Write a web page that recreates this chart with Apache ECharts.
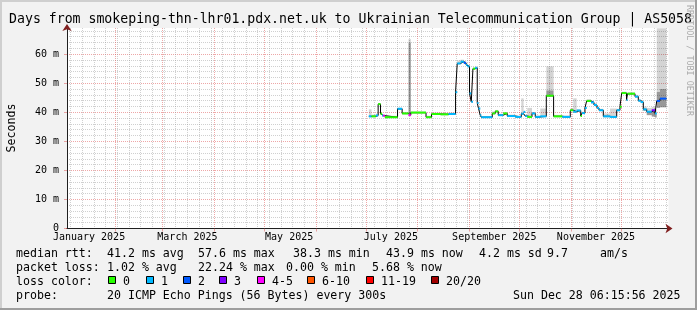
<!DOCTYPE html>
<html><head><meta charset="utf-8">
<script src="https://cdn.jsdelivr.net/npm/echarts@6/dist/echarts.min.js"></script>
<style>html,body{margin:0;padding:0;background:#f2f2f2;overflow:hidden}#c{width:697px;height:310px}</style>
</head><body><div id="c"></div>
<script>
// ---------- data ----------
const times = ['2025-07-02 19:00','2025-07-04 10:00','2025-07-07 00:00','2025-07-08 09:00','2025-07-09 19:00','2025-07-10 18:00','2025-07-11 09:00','2025-07-12 09:00','2025-07-20 00:00','2025-07-22 18:00','2025-07-26 14:00','2025-07-27 23:00','2025-08-06 02:00','2025-08-09 09:00','2025-08-14 19:00','2025-08-19 14:00','2025-08-23 19:00','2025-08-24 19:00','2025-08-26 19:00','2025-08-28 18:00','2025-08-30 02:00','2025-08-30 23:00','2025-09-01 04:00','2025-09-02 05:00','2025-09-03 05:00','2025-09-04 14:00','2025-09-05 19:00','2025-09-06 14:00','2025-09-07 14:00','2025-09-08 05:00','2025-09-14 19:00','2025-09-16 14:00','2025-09-18 09:00','2025-09-21 09:00','2025-09-23 19:00','2025-09-28 14:00','2025-10-02 05:00','2025-10-03 14:00','2025-10-04 14:00','2025-10-05 19:00','2025-10-08 15:00','2025-10-10 14:00','2025-10-13 14:00','2025-10-17 05:00','2025-10-21 14:00','2025-10-26 19:00','2025-10-31 14:00','2025-11-02 09:00','2025-11-04 10:00','2025-11-06 20:00','2025-11-07 14:00','2025-11-09 09:00','2025-11-10 10:00','2025-11-13 00:00','2025-11-14 19:00','2025-11-16 14:00','2025-11-17 19:00','2025-11-20 09:00','2025-11-24 09:00','2025-11-28 10:00','2025-11-30 09:00','2025-12-01 10:00','2025-12-04 07:00','2025-12-04 22:00','2025-12-09 09:00','2025-12-11 09:00','2025-12-12 19:00','2025-12-14 09:00','2025-12-16 10:00','2025-12-19 10:00','2025-12-21 09:00','2025-12-22 10:00','2025-12-24 09:00'];
const dataEnd = '2025-12-28 06:00';
const median = [38.6,38.6,38.9,42.8,39.5,38.9,38.8,38.3,41.2,39.6,39.0,39.9,38.3,39.4,39.3,39.4,46.9,56.8,57.4,57.0,56.3,55.8,46.5,43.6,55.0,55.3,43.2,41.3,39.0,38.3,39.6,40.3,39.0,39.6,38.7,38.4,39.5,40.1,38.7,38.4,39.6,38.4,38.6,45.7,38.6,38.4,40.7,40.2,40.6,38.7,39.7,41.5,43.9,43.4,42.5,41.5,40.7,38.6,38.4,40.7,41.9,46.6,44.2,46.4,45.4,44.0,43.5,41.0,40.2,40.7,39.6,43.9,44.7];
const lossBucket = [1,0,1,0,0,1,4,0,1,0,4,0,0,0,0,1,1,1,1,2,1,1,1,1,0,1,1,1,1,1,0,0,1,0,1,1,1,1,1,0,1,1,1,0,0,1,0,1,1,0,1,1,0,1,1,1,1,1,1,1,0,0,1,0,1,1,1,1,1,3,1,2,2];
const smokeLo = [38.3,38.3,38.6,42.5,39.2,38.6,38.5,38.0,40.9,39.3,38.7,39.6,38.0,39.1,39.0,39.1,46.6,56.5,57.1,56.7,56.0,55.5,46.2,43.3,54.7,55.0,42.9,41.0,38.7,38.0,39.3,40.0,38.7,39.3,38.4,38.1,39.2,39.8,38.4,38.1,39.3,38.1,38.3,45.4,38.3,38.1,40.4,39.9,40.3,38.4,39.4,41.2,43.6,43.1,42.2,41.2,40.4,38.3,38.1,40.4,41.6,46.3,43.9,46.1,45.1,43.7,43.2,40.5,39.0,38.5,38.2,41.5,41.7];
const smokeMid = [38.6,38.6,38.9,42.8,39.5,38.9,38.8,38.3,41.2,39.6,64.0,39.9,38.3,39.4,39.3,39.4,46.9,56.8,57.4,57.0,56.3,55.8,46.5,43.6,55.0,55.3,43.2,41.3,39.0,38.3,39.6,40.3,39.0,39.6,38.7,38.4,39.5,40.1,38.7,38.4,39.6,38.4,38.6,47.5,38.6,38.4,40.7,40.2,40.6,38.7,39.7,41.5,43.9,43.4,42.5,41.5,40.7,38.6,38.4,40.7,41.9,46.6,44.2,46.4,45.4,44.0,43.5,41.0,40.2,40.7,39.6,47.0,48.0];
const smokeHi = [41.0,39.2,39.5,43.2,40.0,39.4,39.3,38.8,41.6,40.0,65.2,40.3,38.8,39.9,39.8,39.9,47.3,57.8,58.1,57.6,56.9,56.2,47.0,44.0,55.4,55.7,43.6,41.7,39.4,38.7,40.3,40.8,39.5,40.1,39.2,38.8,44.8,40.6,39.2,41.5,40.1,38.9,41.3,55.8,39.1,38.9,41.3,44.8,41.1,39.2,40.2,42.0,44.5,44.0,43.2,42.0,41.2,39.6,41.3,41.2,42.4,47.1,44.8,46.9,46.0,44.6,44.0,42.0,41.5,41.8,41.0,68.9,68.9];

// axis extents and ticks
const axisStart = '2025-01-02 19:00';
const axisEnd = '2025-12-29 11:30';
const monthStarts = ['2025-02-01','2025-03-01','2025-04-01','2025-05-01','2025-06-01','2025-07-01','2025-08-01','2025-09-01','2025-10-01','2025-11-01','2025-12-01'];
const monthLabelDates = ['2025-01-16','2025-03-16','2025-05-16','2025-07-16','2025-09-16','2025-11-16'];
const monthLabels = ['January 2025','March 2025','May 2025','July 2025','September 2025','November 2025'];
const yMax = 69;
const yMajorTicks = [0,10,20,30,40,50,60];
const yMinorStep = 2;
const firstSunday = '2025-01-05';

// legend / text
const titleText = 'Days from smokeping-thn-lhr01.pdx.net.uk to Ukrainian Telecommunication Group | AS5058';
const yAxisTitle = 'Seconds';
const watermark = 'RRDTOOL / TOBI OETIKER';
const rttRow = ['median rtt:','41.2 ms avg','57.6 ms max','38.3 ms min','43.9 ms now','4.2 ms sd','9.7','am/s'];
const lossRow = ['packet loss:','1.02 % avg','22.24 % max','0.00 % min','5.68 % now'];
const lossLabels = ['0','1','2','3','4-5','6-10','11-19','20/20'];
const lossColors = ['#26ff00','#00b8ff','#0059ff','#7e00ff','#ff00ff','#ff5500','#ff0000','#a10000'];
const probeRow = ['probe:','20 ICMP Echo Pings (56 Bytes) every 300s'];
const stamp = 'Sun Dec 28 06:15:56 2025';

// ---------- helpers ----------
function toMs(s){
  const parts = s.split(' ');
  const [Y,M,D] = parts[0].split('-').map(Number);
  const [hh,mm] = (parts[1]||'00:00').split(':').map(Number);
  return new Date(Y, M-1, D, hh, mm).getTime();
}
const xMin = toMs(axisStart), xMax = toMs(axisEnd);
const tMs = times.map(toMs);
const tEndMs = toMs(dataEnd);
const monthMs = monthStarts.map(toMs);
const labelMs = monthLabelDates.map(toMs);
const weekMs = [];
{
  const [Y,M,D] = firstSunday.split('-').map(Number);
  for (let k = 0; ; k++) {
    const t = new Date(Y, M-1, D + 7*k).getTime();
    if (t > xMax) break;
    if (monthMs.indexOf(t) < 0) weekMs.push(t);
  }
}
const yMinorTicks = [];
for (let v = yMinorStep; v < yMax; v += yMinorStep) if (v % 10 !== 0) yMinorTicks.push(v);

const nextT = i => (i + 1 < tMs.length ? tMs[i+1] : tEndMs);
const smokeLight = tMs.map((t,i) => [t, nextT(i), smokeMid[i], smokeHi[i]]);
const smokeDark = tMs.map((t,i) => [t, nextT(i), smokeLo[i], smokeMid[i]]);
const medLine = tMs.map((t,i) => [t, median[i]]).concat([[tEndMs, median[median.length-1]]]);
const segs = tMs.map((t,i) => [t, nextT(i), median[i], lossBucket[i]]);

// ---------- style constants ----------
const FONT = 'DejaVu Sans Mono';
const C_GRID = 'rgba(143,143,143,0.42)';
const C_MGRID = 'rgba(222,79,79,0.5)';
const C_AXIS = '#1f1f1f';
const C_ARROW = '#801f1f';

function rectBand(fill){
  return function(params, api){
    const a = api.coord([api.value(0), api.value(3)]);
    const b = api.coord([api.value(1), api.value(2)]);
    return {type:'rect', shape:{x:a[0], y:a[1], width:Math.max(b[0]-a[0],0.8), height:Math.max(b[1]-a[1],0)}, style:{fill:fill}};
  };
}

const chart = echarts.init(document.getElementById('c'), null, {renderer:'canvas', width:697, height:310});
const baseX = {type:'value', min:xMin, max:xMax, position:'bottom', gridIndex:0};
const baseY = {type:'value', min:0, max:yMax, position:'left', gridIndex:0};

const graphics = [];
// border shading
graphics.push({type:'rect', left:0, top:0, shape:{width:697, height:2}, style:{fill:'#cfcfcf'}, z:50});
graphics.push({type:'rect', left:0, top:0, shape:{width:2, height:310}, style:{fill:'#cfcfcf'}, z:50});
graphics.push({type:'rect', left:695, top:0, shape:{width:2, height:310}, style:{fill:'#9e9e9e'}, z:51});
graphics.push({type:'rect', left:0, top:308, shape:{width:697, height:2}, style:{fill:'#9e9e9e'}, z:51});
// title
graphics.push({type:'text', x:350.5, y:19.5, style:{text:titleText, font:'13.2px "'+FONT+'"', fill:'#000', align:'center', verticalAlign:'middle'}, z:60});
// watermark
graphics.push({type:'text', x:689, y:5, rotation:-Math.PI/2, style:{text:watermark, font:'8.4px "'+FONT+'"', fill:'#ababab', align:'left', verticalAlign:'middle'}, z:60});
// y axis title
graphics.push({type:'text', x:12, y:128, rotation:Math.PI/2, style:{text:yAxisTitle, font:'11.6px "'+FONT+'"', fill:'#000', align:'center', verticalAlign:'middle'}, z:60});
// legend rows
const lf = '11.6px "'+FONT+'"';
const rttX = [16,107,198,293,386,479,547,600];
rttRow.forEach((s,i)=>graphics.push({type:'text', x:rttX[i], y:253.5, style:{text:s, font:lf, fill:'#000', verticalAlign:'middle'}, z:60}));
const lossX = [16,107,198,286,372];
lossRow.forEach((s,i)=>graphics.push({type:'text', x:lossX[i], y:267.5, style:{text:s, font:lf, fill:'#000', verticalAlign:'middle'}, z:60}));
graphics.push({type:'text', x:16, y:281.5, style:{text:'loss color:', font:lf, fill:'#000', verticalAlign:'middle'}, z:60});
const boxX = [108,146,183,219,257,307,366,431];
lossLabels.forEach((s,i)=>{
  graphics.push({type:'rect', x:boxX[i]+0.5, y:276.5, shape:{width:7, height:7}, style:{fill:lossColors[i], stroke:'#000', lineWidth:1}, z:60});
  graphics.push({type:'text', x:boxX[i]+15, y:281.5, style:{text:s, font:lf, fill:'#000', verticalAlign:'middle'}, z:60});
});
graphics.push({type:'text', x:16, y:295.5, style:{text:probeRow[0], font:lf, fill:'#000', verticalAlign:'middle'}, z:60});
graphics.push({type:'text', x:107, y:295.5, style:{text:probeRow[1], font:lf, fill:'#000', verticalAlign:'middle'}, z:60});
graphics.push({type:'text', x:680.5, y:295.5, style:{text:stamp, font:lf, fill:'#000', align:'right', verticalAlign:'middle'}, z:60});

chart.setOption({
  animation:false,
  backgroundColor:'#f2f2f2',
  grid:[{left:67, right:28.5, top:28, bottom:81.5, show:true, backgroundColor:'#ffffff', borderWidth:0}],
  xAxis:[
    Object.assign({}, baseX, {axisLine:{show:false}, axisTick:{show:false, customValues:weekMs}, axisLabel:{show:false},
      splitLine:{show:true, lineStyle:{color:C_GRID, type:[1,1], width:1}}}),
    Object.assign({}, baseX, {axisLine:{show:true, onZero:false, lineStyle:{color:C_ARROW, width:1}, symbol:['none','arrow'], symbolSize:[7,7], symbolOffset:[0,4]},
      axisTick:{show:true, customValues:monthMs, length:3, lineStyle:{color:C_MGRID}},
      axisLabel:{show:true, customValues:labelMs, margin:4, fontFamily:FONT, fontSize:10, color:'#000',
        formatter:function(v){ let best=-1, bd=Infinity; labelMs.forEach((m,i)=>{const d=Math.abs(m-v); if(d<bd){bd=d;best=i;}}); return bd<86400000 ? monthLabels[best] : ''; }},
      splitLine:{show:true, lineStyle:{color:C_MGRID, type:[1,1], width:1}}}),
    Object.assign({}, baseX, {axisLine:{show:true, onZero:false, lineStyle:{color:C_AXIS, width:1}}, axisTick:{show:false}, axisLabel:{show:false}, splitLine:{show:false}})
  ],
  yAxis:[
    Object.assign({}, baseY, {axisLine:{show:false}, axisTick:{show:false, customValues:yMinorTicks}, axisLabel:{show:false},
      splitLine:{show:true, lineStyle:{color:C_GRID, type:[1,1], width:1}}}),
    Object.assign({}, baseY, {axisLine:{show:true, onZero:false, lineStyle:{color:C_ARROW, width:1}, symbol:['none','arrow'], symbolSize:[7,7], symbolOffset:[0,4]},
      axisTick:{show:true, customValues:yMajorTicks, length:3, lineStyle:{color:C_MGRID}},
      axisLabel:{show:true, customValues:yMajorTicks, margin:8, fontFamily:FONT, fontSize:10, color:'#000',
        formatter:function(v){ return v === 0 ? '0' : v + ' m'; }},
      splitLine:{show:true, lineStyle:{color:C_MGRID, type:[1,1], width:1}}}),
    Object.assign({}, baseY, {axisLine:{show:true, onZero:false, lineStyle:{color:C_AXIS, width:1}}, axisTick:{show:false}, axisLabel:{show:false}, splitLine:{show:false}})
  ],
  series:[
    {type:'custom', name:'smoke', xAxisIndex:1, yAxisIndex:1, data:smokeLight, encode:{x:[0,1], y:[2,3]}, renderItem:rectBand('rgba(0,0,0,0.17)'), z:2, silent:true},
    {type:'custom', name:'smoke core', xAxisIndex:1, yAxisIndex:1, data:smokeDark, encode:{x:[0,1], y:[2,3]}, renderItem:rectBand('rgba(0,0,0,0.40)'), z:3, silent:true},
    {type:'line', name:'median', xAxisIndex:1, yAxisIndex:1, data:medLine, step:'end', showSymbol:false, symbol:'none', lineStyle:{color:'#000', width:1}, z:4, silent:true},
    {type:'custom', name:'loss', xAxisIndex:1, yAxisIndex:1, data:segs, encode:{x:[0,1], y:2},
      renderItem:function(params, api){
        const a = api.coord([api.value(0), api.value(2)]);
        const b = api.coord([api.value(1), api.value(2)]);
        return {type:'line', shape:{x1:a[0], y1:a[1], x2:b[0], y2:b[1]}, style:{stroke:lossColors[api.value(3)], lineWidth:2}};
      }, z:5, silent:true}
  ],
  graphic:graphics
});
</script></body></html>
